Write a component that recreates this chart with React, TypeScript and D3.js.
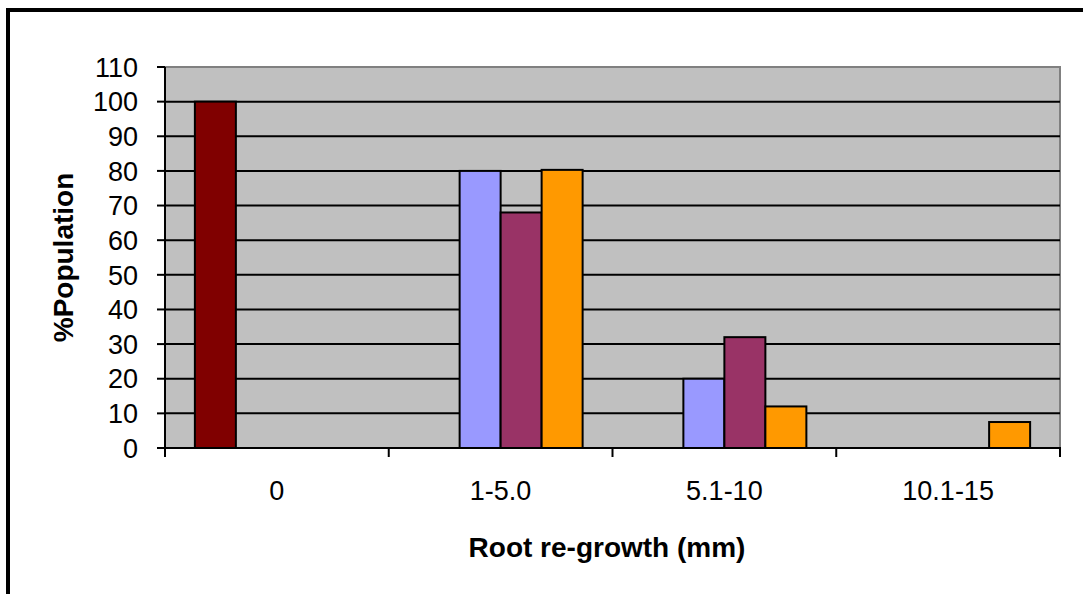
import React from "react";
import * as d3 from "d3";

const categories = ["0", "1-5.0", "5.1-10", "10.1-15"];
const series1 = [100, 0, 0, 0];
const series2 = [0, 80, 20, 0];
const series3 = [0, 68, 32, 0];
const series4 = [0, 80.3, 12, 7.5];
const seriesColors = ["#800000", "#9999FF", "#993366", "#FF9900"];
const yTicks = [0, 10, 20, 30, 40, 50, 60, 70, 80, 90, 100, 110];

const W = 1083;
const H = 594;
const plot = { left: 165, right: 1060, top: 67, bottom: 448 };
const FONT = "'Liberation Sans', Arial, sans-serif";

export default function App() {
  const allSeries = [series1, series2, series3, series4];
  const x = d3
    .scaleBand<string>()
    .domain(categories)
    .range([plot.left, plot.right])
    .paddingInner(0)
    .paddingOuter(0);
  const inner = d3
    .scaleBand<number>()
    .domain([0, 1, 2, 3])
    .range([0, x.bandwidth()])
    .paddingInner(0)
    .paddingOuter(0.7287);
  const y = d3.scaleLinear().domain([0, 110]).range([plot.bottom, plot.top]);

  const boundaries = [...categories.map((c) => x(c) as number), plot.right];

  return (
    <svg
      width={W}
      height={H}
      style={{ position: "absolute", left: 0, top: 0, background: "#fff" }}
    >
      {/* chart frame */}
      <rect x={8} y={10} width={1100} height={620} fill="#fff" stroke="#000" strokeWidth={4} />

      {/* plot area */}
      <rect
        x={plot.left}
        y={plot.top}
        width={plot.right - plot.left}
        height={plot.bottom - plot.top}
        fill="#C0C0C0"
      />
      <path
        d={`M${plot.left},${plot.top}H${plot.right}V${plot.bottom}`}
        fill="none"
        stroke="#808080"
        strokeWidth={2}
      />

      {/* gridlines */}
      {yTicks
        .filter((t) => t > 0 && t < 110)
        .map((t) => (
          <line
            key={"g" + t}
            x1={plot.left}
            x2={plot.right}
            y1={y(t)}
            y2={y(t)}
            stroke="#000"
            strokeWidth={2}
          />
        ))}

      {/* bars */}
      {allSeries.map((vals, si) =>
        vals.map((v, ci) => {
          if (v <= 0) return null;
          const bx = (x(categories[ci]) as number) + (inner(si) as number);
          return (
            <rect
              key={`b${si}-${ci}`}
              x={bx}
              y={y(v)}
              width={inner.bandwidth()}
              height={y(0) - y(v)}
              fill={seriesColors[si]}
              stroke="#000"
              strokeWidth={2}
            />
          );
        })
      )}

      {/* y axis */}
      <line x1={plot.left} x2={plot.left} y1={plot.top} y2={plot.bottom} stroke="#000" strokeWidth={2} />
      {yTicks.map((t) => (
        <g key={"y" + t}>
          <line x1={plot.left - 8} x2={plot.left} y1={y(t)} y2={y(t)} stroke="#000" strokeWidth={2} />
          <text
            x={138}
            y={y(t)}
            dy="0.36em"
            textAnchor="end"
            fontFamily={FONT}
            fontSize={27}
            fill="#000"
          >
            {t}
          </text>
        </g>
      ))}

      {/* x axis */}
      <line x1={plot.left - 1} x2={plot.right + 1} y1={plot.bottom} y2={plot.bottom} stroke="#000" strokeWidth={2} />
      {boundaries.map((bx, i) => (
        <line key={"xt" + i} x1={bx} x2={bx} y1={plot.bottom} y2={plot.bottom + 9} stroke="#000" strokeWidth={2} />
      ))}
      {categories.map((c) => (
        <text
          key={"xl" + c}
          x={(x(c) as number) + x.bandwidth() / 2}
          y={500}
          textAnchor="middle"
          fontFamily={FONT}
          fontSize={27}
          fill="#000"
        >
          {c}
        </text>
      ))}

      {/* axis titles */}
      <text
        x={607}
        y={557}
        textAnchor="middle"
        fontFamily={FONT}
        fontSize={28}
        fontWeight="bold"
        fill="#000"
      >
        Root re-growth (mm)
      </text>
      <text
        transform={`translate(73,${(plot.top + plot.bottom) / 2}) rotate(-90)`}
        textAnchor="middle"
        fontFamily={FONT}
        fontSize={28}
        fontWeight="bold"
        fill="#000"
      >
        %Population
      </text>
    </svg>
  );
}
